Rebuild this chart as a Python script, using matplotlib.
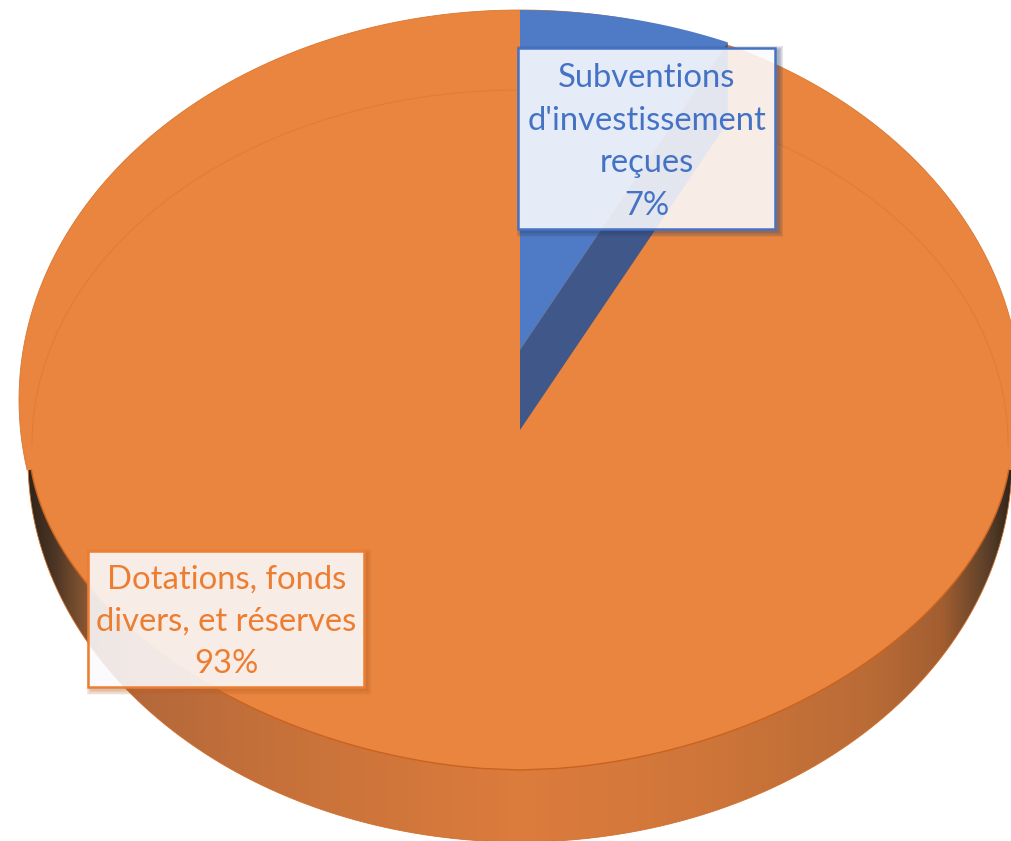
import numpy as np
import matplotlib
matplotlib.use('Agg')
import matplotlib.pyplot as plt
from matplotlib.colors import LinearSegmentedColormap
from matplotlib.patches import PathPatch, Rectangle, Polygon
from matplotlib.path import Path

categories = ["Subventions\nd'investissement\nreçues", "Dotations, fonds\ndivers, et réserves"]
shares = [7, 93]

plt.rcParams['font.family'] = ['Lato', 'DejaVu Sans']

BLUE = '#4472C4'
ORANGE = '#ED7D31'
TOP_ORANGE = '#E9853F'
TOP_BLUE = '#4F7BC6'
WALL_BLUE = '#40578A'

fig = plt.figure(figsize=(10.12, 8.41), dpi=100)
ax = fig.add_axes([0, 0, 1, 1])
ax.set_xlim(0, 1012)
ax.set_ylim(841, 0)
ax.axis('off')


def ellipse_pts(cx, cy, rx, ry, a0, a1, n=300):
    # angles in degrees, 0 = right, 90 = up on screen
    t = np.radians(np.linspace(a0, a1, n))
    return np.column_stack([cx + rx * np.cos(t), cy - ry * np.sin(t)])


# pie geometry in pixels
cx = 520
apex_y = 430
lift = 80

# side wall, shaded left to right
wall_pts = ellipse_pts(cx, 460, 492, 382, 0, 360)
wall_cmap = LinearSegmentedColormap.from_list('wall', [
    (0.00, '#2e241b'), (0.025, '#4a3424'), (0.06, '#8a5833'), (0.11, '#b4683a'),
    (0.25, '#c6713a'), (0.50, '#dc7c3d'), (0.68, '#d0763a'), (0.86, '#b96b36'),
    (0.93, '#a25e31'), (0.975, '#5c4029'), (1.00, '#2e241b')], N=2048)
grad = np.linspace(0, 1, 1024).reshape(1, -1)
img = ax.imshow(grad, cmap=wall_cmap, extent=[28, 1012, 850, 300], aspect='auto', zorder=1,
                interpolation='bilinear')
img.set_clip_path(PathPatch(Path(wall_pts), transform=ax.transData))
ax.set_xlim(0, 1012)
ax.set_ylim(841, 0)
ax.plot(wall_pts[:, 0], wall_pts[:, 1], color='#d0702c', lw=0.6, zorder=1.2)

# top face: back silhouette joined to the front rim
a_cut = np.degrees(np.arcsin(70 / 390))
back = ellipse_pts(cx, 400, 501, 390, -a_cut, 180 + a_cut)
front_dy = np.concatenate([np.linspace(25, 325, 200), np.linspace(325, 25, 200)])
front_side = np.concatenate([-np.ones(200), np.ones(200)])
front = np.column_stack([cx + front_side * 491 * (1 - (front_dy / 325) ** 1.85) ** (1 / 1.85), 445 + front_dy])
ax.add_patch(Polygon(np.vstack([back, front]), closed=True, fc=TOP_ORANGE, ec='none', zorder=2))
ax.plot(back[:, 0], back[:, 1], color='#d9772f', lw=0.6, zorder=2.1)
ax.plot(front[:, 0], front[:, 1], color='#c9631f', lw=1.0, zorder=2.1)

# faint inner rim at the back
inner_back = ellipse_pts(cx, 445, 488, 355, 0, 180)
ax.plot(inner_back[:, 0], inner_back[:, 1], color='#E57B33', lw=0.8, zorder=2.1)

# blue slice from its share, clockwise from 12 o'clock
sweep = 360 * shares[0] / sum(shares)
end_a = 90 - sweep
rim_low = ellipse_pts(cx, apex_y, 488, 340, 90, end_a, 80)
rim_high = ellipse_pts(cx, apex_y - lift, 488, 340, 90, end_a, 80)
ax.add_patch(Polygon(np.vstack([[cx, apex_y - lift], rim_high]), closed=True,
                     fc=TOP_BLUE, ec='none', zorder=3))
ax.add_patch(Polygon([(cx, apex_y), (cx, apex_y - lift), rim_high[-1], rim_low[-1]],
                     closed=True, fc=WALL_BLUE, ec='none', zorder=3.1))


def rect_path(x0, y0, x1, y1, reverse=False):
    pts = [(x0, y0), (x1, y0), (x1, y1), (x0, y1), (x0, y0)]
    if reverse:
        pts = pts[::-1]
    return Path(pts, closed=True)


def label_box(x0, y0, x1, y1, color, shadow, text, fs, ly):
    # soft shadow outside the box only, then the translucent box
    hole = rect_path(x0, y0, x1, y1, reverse=True)
    for k in range(7, 0, -1):
        outer = rect_path(x0 + 3 - k * 0.7, y0 + 3 - k * 0.7, x1 + 3 + k * 0.7, y1 + 3 + k * 0.7)
        ax.add_patch(PathPatch(Path.make_compound_path(outer, hole), fc=shadow, ec='none',
                               alpha=0.07, zorder=4))
    ax.add_patch(Rectangle((x0, y0), x1 - x0, y1 - y0, fc=(0.985, 0.985, 0.995, 0.88), ec=color, lw=1.8, zorder=5))
    ax.text((x0 + x1) / 2, ly, text, color=color, fontsize=fs, ha='center', va='center',
            linespacing=1.52, zorder=6)


label_box(518.5, 47.5, 775.5, 229, BLUE, '#2d3f66',
          f"{categories[0]}\n{shares[0]}%", 23.6, 142)
label_box(88.5, 551, 364, 687, ORANGE, '#b8642a',
          f"{categories[1]}\n{shares[1]}%", 23.6, 622)

fig.savefig('out.png', dpi=100)
